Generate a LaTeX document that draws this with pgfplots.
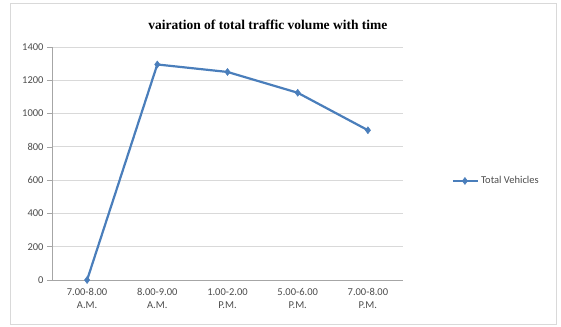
\documentclass[border=0pt]{standalone}
\usepackage{pgfplots}
\pgfplotsset{compat=1.18}
\usepackage{fontspec}
\setmainfont{Carlito}
\newfontfamily\titlefont{Liberation Serif}
\definecolor{excelblue}{HTML}{4A7EBB}
\definecolor{gridgray}{HTML}{D9D9D9}
\definecolor{axgray}{HTML}{A6A6A6}
\begin{document}
\begin{tikzpicture}[x=1pt,y=1pt]
\useasboundingbox (0,0) rectangle (561,326);
\draw[gridgray, line width=0.8pt] (10,1.5) rectangle (556,323);
\begin{axis}[
  at={(52pt,46pt)}, anchor=south west,
  scale only axis, width=351pt, height=233pt,
  xmin=-0.5, xmax=4.5, ymin=0, ymax=1400,
  ytick={0,200,...,1400},
  xtick={0,1,2,3,4},
  xticklabels={{7.00-8.00\\A.M.},{8.00-9.00\\A.M.},{1.00-2.00\\P.M.},{5.00-6.00\\P.M.},{7.00-8.00\\P.M.}},
  x tick label style={align=center, font=\fontsize{10.5}{13}\selectfont\color{black!70}},
  y tick label style={font=\fontsize{10.5}{12}\selectfont\color{black!70}},
  /pgf/number format/assume math mode=true,
  /pgf/number format/1000 sep={},
  axis x line*=bottom, axis y line*=left,
  axis line style={axgray, line width=0.7pt},
  ymajorgrids, grid style={gridgray, line width=0.9pt},
  x tick style={draw=none},
  y tick style={axgray, line width=0.7pt},
  tick align=outside, major tick length=5pt,
  extra x ticks={-0.5,0.5,1.5,2.5,3.5,4.5},
  extra x tick labels={},
  extra x tick style={grid=none, tick style={draw=axgray, line width=0.7pt}},
  title={\titlefont\bfseries\fontsize{13.5}{15}\selectfont vairation of total traffic volume with time},
  title style={at={(0.615,1)}, anchor=south, yshift=8pt},
  legend style={at={(1.13,0.425)}, anchor=west, draw=none, fill=none, font=\fontsize{10.5}{12}\selectfont\color{black!70}},
  legend cell align=left,
  legend image code/.code={
    \draw[#1, mark repeat=2, mark phase=2] plot coordinates {(0pt,0pt) (12pt,0pt) (25pt,0pt)};
  },
  clip=false,
]
\addplot[excelblue, line width=2.2pt, mark=diamond*, mark size=3.5pt, mark options={fill=excelblue, line width=0.5pt}]
  coordinates {(0,0) (1,1295) (2,1250) (3,1125) (4,900)};
\addlegendentry{Total Vehicles}
\end{axis}
\end{tikzpicture}
\end{document}
